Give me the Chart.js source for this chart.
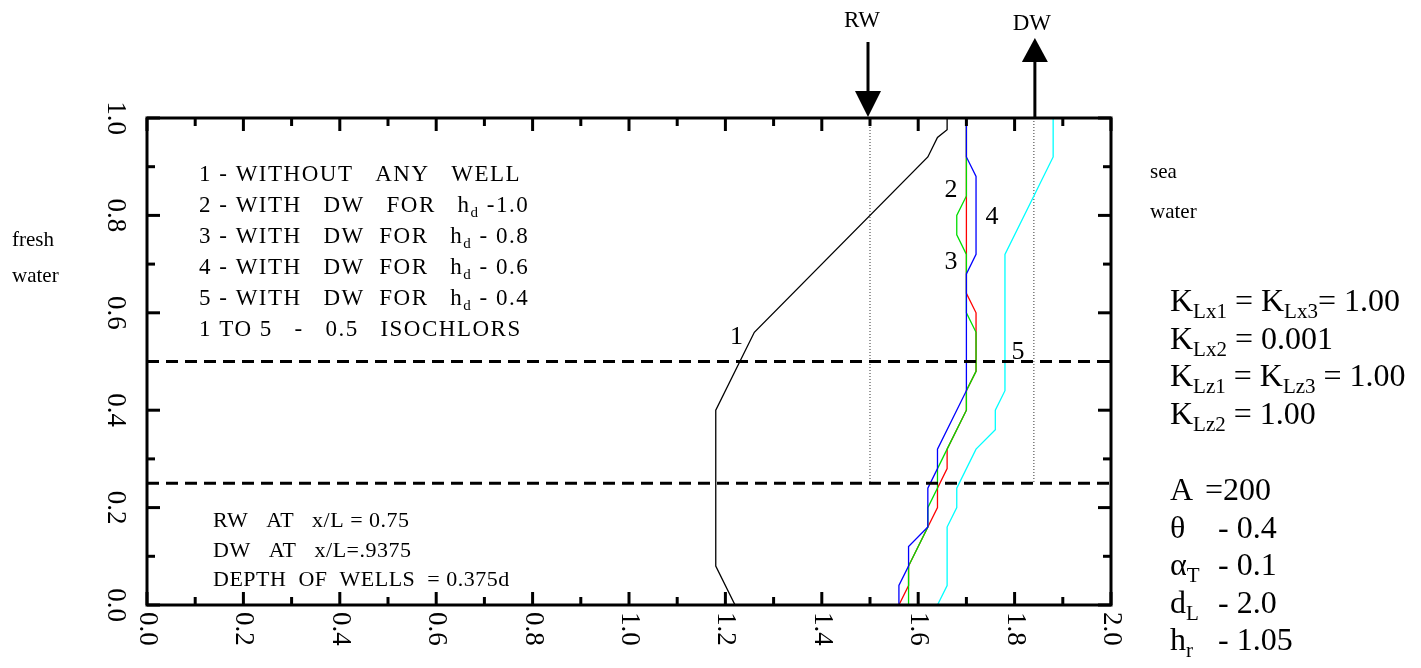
<!DOCTYPE html>
<html>
<head>
<meta charset="utf-8">
<script src="https://cdn.jsdelivr.net/npm/chart.js@4.4.0/dist/chart.umd.min.js"></script>
<style>
html, body { margin: 0; padding: 0; background: #fff; }
canvas { display: block; }
</style>
</head>
<body>
<canvas id="myChart" width="1421" height="668"></canvas>
<script>
// 0.5 isochlor curves (x = horizontal distance, y = depth)
const curve1X = [1.66, 1.66, 1.64, 1.62, 1.26, 1.18, 1.18, 1.22];
const curve1Y = [1.00, 0.976, 0.96, 0.92, 0.56, 0.40, 0.08, 0.00];

const curve2X = [1.70, 1.70, 1.72, 1.72, 1.70, 1.70, 1.66, 1.66, 1.64, 1.64, 1.62, 1.58, 1.58, 1.56];
const curve2Y = [1.00, 0.64, 0.60, 0.48, 0.44, 0.40, 0.32, 0.28, 0.24, 0.20, 0.16, 0.08, 0.04, 0.00];

const curve3X = [1.70, 1.70, 1.68, 1.68, 1.70, 1.70, 1.72, 1.72, 1.70, 1.70, 1.66, 1.64, 1.64, 1.62, 1.62, 1.58, 1.58];
const curve3Y = [1.00, 0.84, 0.80, 0.76, 0.72, 0.60, 0.56, 0.48, 0.44, 0.40, 0.32, 0.28, 0.24, 0.20, 0.16, 0.08, 0.00];

const curve4X = [1.70, 1.70, 1.72, 1.72, 1.70, 1.70, 1.64, 1.64, 1.62, 1.62, 1.58, 1.58, 1.56, 1.56];
const curve4Y = [1.00, 0.92, 0.88, 0.72, 0.68, 0.44, 0.32, 0.28, 0.24, 0.16, 0.12, 0.08, 0.04, 0.00];

const curve5X = [1.88, 1.88, 1.78, 1.78, 1.76, 1.76, 1.72, 1.68, 1.68, 1.66, 1.66, 1.64];
const curve5Y = [1.00, 0.92, 0.72, 0.44, 0.40, 0.36, 0.32, 0.24, 0.20, 0.16, 0.04, 0.00];

// curve number labels, placed in data units
const curveNames = ['1', '2', '3', '4', '5'];
const nameX = [1.223, 1.668, 1.668, 1.753, 1.807];
const nameY = [0.55, 0.852, 0.704, 0.797, 0.52];

const xTickLabels = ['0.0', '0.2', '0.4', '0.6', '0.8', '1.0', '1.2', '1.4', '1.6', '1.8', '2.0'];
const yTickLabels = ['0.0', '0.2', '0.4', '0.6', '0.8', '1.0'];

const dashedLevels = [0.5, 0.25];
const rwX = 1.5;
const dwX = 1.84;
const wellDepth = 0.25;

const serif = '"Liberation Serif", "Times New Roman", serif';

function pts(xs, ys) {
  return xs.map((x, i) => ({ x: x, y: ys[i] }));
}

function curve(xs, ys, color, order) {
  return {
    data: pts(xs, ys),
    borderColor: color,
    borderWidth: 1.3,
    pointRadius: 0,
    tension: 0,
    fill: false,
    order: order
  };
}

const datasets = [
  curve(curve1X, curve1Y, '#000000', 1),
  curve(curve2X, curve2Y, '#ff0000', 4),
  curve(curve3X, curve3Y, '#00dd00', 3),
  curve(curve4X, curve4Y, '#0000ff', 2),
  curve(curve5X, curve5Y, '#00ffff', 5)
];
dashedLevels.forEach(lv => {
  datasets.push({
    data: pts([0, 2], [lv, lv]),
    borderColor: '#000', borderWidth: 3, borderDash: [12, 7],
    pointRadius: 0, fill: false, order: 0
  });
});
[rwX, dwX].forEach(wx => {
  datasets.push({
    data: pts([wx, wx], [1, wellDepth]),
    borderColor: '#333', borderWidth: 1, borderDash: [1, 2],
    pointRadius: 0, fill: false, order: 6
  });
});

// text blocks
const legendLines = [
  [['1 - WITHOUT   ANY   WELL']],
  [['2 - WITH   DW   FOR   h'], ['d', 1], [' -1.0']],
  [['3 - WITH   DW  FOR   h'], ['d', 1], [' - 0.8']],
  [['4 - WITH   DW  FOR   h'], ['d', 1], [' - 0.6']],
  [['5 - WITH   DW  FOR   h'], ['d', 1], [' - 0.4']],
  [['1 TO 5   -   0.5   ISOCHLORS']]
];
const wellLines = ['RW   AT   x/L = 0.75', 'DW   AT   x/L=.9375', 'DEPTH  OF  WELLS  = 0.375d'];
const kLines = [
  [['K'], ['Lx1', 1], [' = K'], ['Lx3', 1], ['= 1.00']],
  [['K'], ['Lx2', 1], [' = 0.001']],
  [['K'], ['Lz1', 1], [' = K'], ['Lz3', 1], [' = 1.00']],
  [['K'], ['Lz2', 1], [' = 1.00']]
];
const paramSymbols = [[['A']], [['θ']], [['α'], ['T', 1]], [['d'], ['L', 1]], [['h'], ['r', 1]]];
const paramValues = ['=200', '- 0.4', '- 0.1', '- 2.0', '- 1.05'];

function rich(ctx, parts, x, y, size, subSize, subDrop) {
  let cx = x;
  parts.forEach(p => {
    const sub = p[1] === 1;
    ctx.font = (sub ? subSize : size) + 'px ' + serif;
    ctx.fillText(p[0], cx, sub ? y + subDrop : y);
    cx += ctx.measureText(p[0]).width;
  });
}

const decor = {
  id: 'decor',
  afterDatasetsDraw(chart) {
    const ctx = chart.ctx;
    const a = chart.chartArea;
    const xs = chart.scales.x;
    const ys = chart.scales.y;
    ctx.save();
    ctx.strokeStyle = '#000';
    ctx.fillStyle = '#000';
    ctx.lineWidth = 3;
    ctx.strokeRect(a.left, a.top, a.right - a.left, a.bottom - a.top);

    // inward ticks on all four sides
    function seg(x1, y1, x2, y2) {
      ctx.beginPath(); ctx.moveTo(x1, y1); ctx.lineTo(x2, y2); ctx.stroke();
    }
    for (let i = 0; i <= 20; i++) {
      const px = xs.getPixelForValue(i / 10);
      const len = i % 2 === 0 ? 13 : 8;
      seg(px, a.bottom, px, a.bottom - len);
      seg(px, a.top, px, a.top + len);
    }
    for (let i = 0; i <= 10; i++) {
      const py = ys.getPixelForValue(i / 10);
      const len = i % 2 === 0 ? 13 : 8;
      seg(a.left, py, a.left + len, py);
      seg(a.right, py, a.right - len, py);
    }

    // rotated tick labels
    ctx.font = '27px ' + serif;
    ctx.textBaseline = 'middle';
    xTickLabels.forEach((t, i) => {
      ctx.save();
      ctx.translate(xs.getPixelForValue(i * 0.2), a.bottom + 7);
      ctx.rotate(Math.PI / 2);
      ctx.textAlign = 'left';
      ctx.fillText(t, 0, 0);
      ctx.restore();
    });
    yTickLabels.forEach((t, i) => {
      ctx.save();
      ctx.translate(a.left - 32, ys.getPixelForValue(i * 0.2));
      ctx.rotate(Math.PI / 2);
      ctx.textAlign = 'center';
      ctx.fillText(t, 0, 0);
      ctx.restore();
    });

    // well arrows
    const rx = xs.getPixelForValue(rwX);
    const dx = xs.getPixelForValue(dwX);
    seg(rx - 2, 42, rx - 2, 92);
    ctx.beginPath(); ctx.moveTo(rx - 15, 91); ctx.lineTo(rx + 11, 91); ctx.lineTo(rx - 2, 117); ctx.closePath(); ctx.fill();
    seg(dx + 1, a.top, dx + 1, 60);
    ctx.beginPath(); ctx.moveTo(dx - 12, 62); ctx.lineTo(dx + 14, 62); ctx.lineTo(dx + 1, 38); ctx.closePath(); ctx.fill();
    ctx.textAlign = 'center';
    ctx.textBaseline = 'alphabetic';
    ctx.font = '23px ' + serif;
    ctx.fillText('RW', rx - 8, 27);
    ctx.fillText('DW', dx - 2, 30);

    // curve numbers
    ctx.font = '26px ' + serif;
    ctx.textBaseline = 'middle';
    curveNames.forEach((n, i) => {
      ctx.fillText(n, xs.getPixelForValue(nameX[i]), ys.getPixelForValue(nameY[i]));
    });

    ctx.textAlign = 'left';
    ctx.textBaseline = 'alphabetic';
    ctx.letterSpacing = '1.5px';
    legendLines.forEach((ln, i) => rich(ctx, ln, 199, 181 + i * 31, 23, 15, 5));
    ctx.letterSpacing = '0.5px';
    ctx.font = '22px ' + serif;
    wellLines.forEach((t, i) => ctx.fillText(t, 213, 527 + i * 29.5));
    ctx.letterSpacing = '0px';

    ctx.font = '21px ' + serif;
    ctx.fillText('fresh', 12, 246);
    ctx.fillText('water', 12, 282);
    ctx.fillText('sea', 1150, 178);
    ctx.fillText('water', 1150, 218);

    kLines.forEach((ln, i) => rich(ctx, ln, 1170, 311 + i * 37.5, 32, 21, 7));
    paramSymbols.forEach((ln, i) => {
      rich(ctx, ln, 1170, 500 + i * 37.5, 32, 21, 7);
      ctx.font = '32px ' + serif;
      ctx.fillText(paramValues[i], i === 0 ? 1205 : 1218, 500 + i * 37.5);
    });
    ctx.restore();
  }
};

new Chart('myChart', {
  type: 'line',
  data: { datasets: datasets },
  options: {
    responsive: false,
    animation: false,
    devicePixelRatio: 1,
    layout: { padding: { left: 147, right: 310, top: 118, bottom: 63 } },
    scales: {
      x: { type: 'linear', min: 0, max: 2, display: false },
      y: { type: 'linear', min: 0, max: 1, display: false }
    },
    plugins: { legend: { display: false }, tooltip: { enabled: false } }
  },
  plugins: [decor]
});
</script>
</body>
</html>
